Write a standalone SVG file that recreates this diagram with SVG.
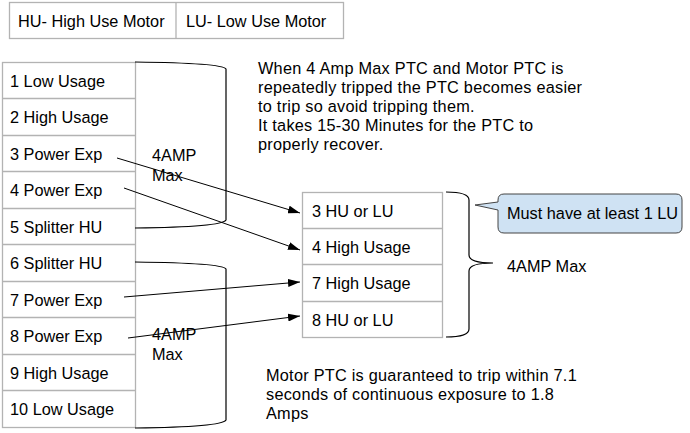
<svg xmlns="http://www.w3.org/2000/svg" width="690" height="433" viewBox="0 0 690 433">
<defs>
<style>
text{font-family:"Liberation Sans",Arial,sans-serif;font-size:16.3px;fill:#000}
.note text{letter-spacing:0.25px}
.cell{fill:none;stroke:#b3b3b3;stroke-width:1.3}
.br{fill:none;stroke:#000;stroke-width:1.2}
.ar{fill:none;stroke:#000;stroke-width:1}
</style>
<marker id="ah" viewBox="0 0 12 8" refX="12" refY="4" markerWidth="12" markerHeight="8" markerUnits="userSpaceOnUse" orient="auto">
<path d="M0,0 L12,4 L0,8 Z" fill="#000"/>
</marker>
</defs>
<rect width="690" height="433" fill="#fff"/>

<g id="legend">
<rect class="cell" x="9.5" y="2.5" width="334" height="36"/>
<line class="cell" x1="176" y1="2.5" x2="176" y2="38.5"/>
<text x="18" y="27">HU- High Use Motor</text>
<text x="186" y="27">LU- Low Use Motor</text>
</g>

<g id="left-table">
<rect class="cell" x="2.5" y="62.5" width="133" height="365"/>
<line class="cell" x1="2.5" y1="98.5" x2="135.5" y2="98.5"/>
<line class="cell" x1="2.5" y1="135.5" x2="135.5" y2="135.5"/>
<line class="cell" x1="2.5" y1="171.5" x2="135.5" y2="171.5"/>
<line class="cell" x1="2.5" y1="208.5" x2="135.5" y2="208.5"/>
<line class="cell" x1="2.5" y1="244.5" x2="135.5" y2="244.5"/>
<line class="cell" x1="2.5" y1="281.5" x2="135.5" y2="281.5"/>
<line class="cell" x1="2.5" y1="317.5" x2="135.5" y2="317.5"/>
<line class="cell" x1="2.5" y1="354.5" x2="135.5" y2="354.5"/>
<line class="cell" x1="2.5" y1="390.5" x2="135.5" y2="390.5"/>
<text x="10" y="87">1 Low Usage</text>
<text x="10" y="123">2 High Usage</text>
<text x="10" y="160">3 Power Exp</text>
<text x="10" y="196">4 Power Exp</text>
<text x="10" y="233">5 Splitter HU</text>
<text x="10" y="269">6 Splitter HU</text>
<text x="10" y="306">7 Power Exp</text>
<text x="10" y="342">8 Power Exp</text>
<text x="10" y="379">9 High Usage</text>
<text x="10" y="415">10 Low Usage</text>
</g>

<g id="brace-top">
<path class="br" d="M135,62 Q222,63 226,69 L226,220 Q222,227 135,228"/>
<text x="152" y="161">4AMP</text>
<text x="152" y="181">Max</text>
</g>

<g id="brace-bottom">
<path class="br" d="M135,262 Q222,263 226,269 L226,420 Q222,427 135,428"/>
<text x="152" y="340">4AMP</text>
<text x="152" y="360">Max</text>
</g>

<g id="right-table">
<rect class="cell" x="302.5" y="192.5" width="140" height="145"/>
<line class="cell" x1="302.5" y1="228.5" x2="442.5" y2="228.5"/>
<line class="cell" x1="302.5" y1="264.5" x2="442.5" y2="264.5"/>
<line class="cell" x1="302.5" y1="301.5" x2="442.5" y2="301.5"/>
<text x="312" y="217">3 HU or LU</text>
<text x="312" y="253">4 High Usage</text>
<text x="312" y="289">7 High Usage</text>
<text x="312" y="326">8 HU or LU</text>
</g>

<g id="brace-right">
<path class="br" d="M446,192 Q469,192 469,200 L469,255 Q469,263 493,263 Q469,263 469,271 L469,329 Q469,337 446,337"/>
<text x="507" y="272">4AMP Max</text>
</g>

<g id="callout">
<path d="M504,194 L676,194 Q682,194 682,200 L682,227 Q682,233 676,233 L504,233 Q498,233 498,227 L498,210 L475,205 L498,202 L498,200 Q498,194 504,194 Z" fill="#cfe2f3" stroke="#444" stroke-width="1"/>
<text x="507" y="219">Must have at least 1 LU</text>
</g>

<g id="note-top" class="note">
<text x="258" y="74">When 4 Amp Max PTC and Motor PTC is</text>
<text x="258" y="93">repeatedly tripped the PTC becomes easier</text>
<text x="258" y="112">to trip so avoid tripping them.</text>
<text x="258" y="131">It takes 15-30 Minutes for the PTC to</text>
<text x="258" y="150">properly recover.</text>
</g>

<g id="note-bottom" class="note">
<text x="266" y="381">Motor PTC is guaranteed to trip within 7.1</text>
<text x="266" y="400">seconds of continuous exposure to 1.8</text>
<text x="266" y="419">Amps</text>
</g>

<g id="connectors">
<line class="ar" x1="117" y1="158" x2="300" y2="213" marker-end="url(#ah)"/>
<line class="ar" x1="124" y1="188" x2="300" y2="250" marker-end="url(#ah)"/>
<line class="ar" x1="124" y1="297" x2="300" y2="282" marker-end="url(#ah)"/>
<line class="ar" x1="128" y1="338" x2="300" y2="316" marker-end="url(#ah)"/>
</g>
</svg>
